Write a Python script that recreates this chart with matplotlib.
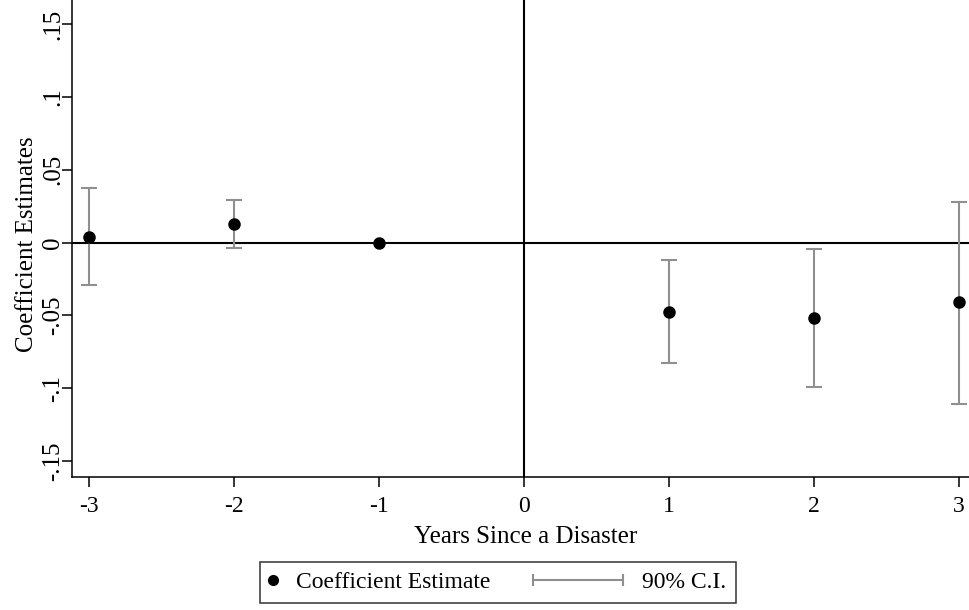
import numpy as np
import matplotlib
matplotlib.use("Agg")
import matplotlib.pyplot as plt
from matplotlib.lines import Line2D
from matplotlib.legend_handler import HandlerBase, HandlerLine2D

# event-study estimates
years = [-3, -2, -1, 1, 2, 3]
coef = [0.0038, 0.0125, 0.0, -0.0477, -0.052, -0.041]
ci_low = [-0.029, -0.0038, np.nan, -0.083, -0.099, -0.111]
ci_high = [0.0376, 0.029, np.nan, -0.012, -0.0045, 0.028]
xticks = [-3, -2, -1, 0, 1, 2, 3]
yticks = [-0.15, -0.1, -0.05, 0, 0.05, 0.1, 0.15]
ytick_labels = ['-.15', '-.1', '-.05', '0', '.05', '.1', '.15']

plt.rcParams['font.family'] = ['Liberation Serif', 'DejaVu Serif']
grey = '#8f8f8f'


class CIHandler(HandlerBase):
    # horizontal capped line, wider than the default handle box
    def legend_artist(self, legend, orig_handle, fontsize, handlebox):
        handlebox.width = 65
        return super().legend_artist(legend, orig_handle, fontsize, handlebox)

    def create_artists(self, legend, orig_handle, xdescent, ydescent,
                       width, height, fontsize, trans):
        y = (height - ydescent) / 2.0
        xs = [-xdescent, width - xdescent]
        line = Line2D(xs, [y, y], color=grey, lw=1.5, transform=trans)
        caps = Line2D(xs, [y, y], color=grey, ls='none', marker='|',
                      markersize=9, markeredgewidth=1.5, transform=trans)
        return [line, caps]


fig = plt.figure(figsize=(9.69, 6.10), dpi=100)
ax = fig.add_axes([72 / 969, 1 - 477 / 610, 1 - 72 / 969, 477 / 610])

ax.axhline(0, color='black', lw=1.5, zorder=1)
ax.axvline(0, color='black', lw=1.5, zorder=1)

c = np.array(coef)
lo = np.array(ci_low)
hi = np.array(ci_high)
ok = ~np.isnan(lo)
ax.errorbar(np.array(years)[ok], c[ok], yerr=[c[ok] - lo[ok], hi[ok] - c[ok]],
            fmt='none', ecolor=grey, elinewidth=1.5, capsize=6, capthick=1.5, zorder=2)
ax.plot(years, coef, 'o', color='black', markersize=8, zorder=3)

ax.set_xlim(-3.117, 3.069)
ax.set_ylim(-0.161, 0.1665)
ax.set_xticks(xticks)
ax.set_xticklabels([str(v) for v in xticks])
ax.set_yticks(yticks)
ax.set_yticklabels(ytick_labels, rotation=90, ha='center', va='baseline',
                   rotation_mode='anchor')
ax.tick_params(axis='both', length=7, width=1.1, color='black')
ax.tick_params(axis='x', labelsize=17, pad=6.5)
ax.tick_params(axis='y', labelsize=18, pad=2.2)
for s in ['top', 'right']:
    ax.spines[s].set_visible(False)
for s in ['left', 'bottom']:
    ax.spines[s].set_linewidth(1.1)

ax.set_xlabel('Years Since a Disaster', fontsize=18, va='baseline')
ax.xaxis.set_label_coords(0.5056, -0.1384)
ax.set_ylabel('Coefficient Estimates', fontsize=18, va='baseline',
              rotation_mode='anchor')
ax.yaxis.set_label_coords(-0.0435, 0.488)

dot = Line2D([], [], color='black', marker='o', ls='none', markersize=7)
ci = Line2D([], [], color=grey)
leg = fig.legend([dot, ci], ['Coefficient Estimate', '90% C.I.'],
                 loc='center', bbox_to_anchor=(498 / 969, 1 - 582.5 / 610),
                 ncol=2, fontsize=17, frameon=True, fancybox=False,
                 edgecolor='black', handlelength=0.3, handletextpad=0.8,
                 columnspacing=1.8, borderpad=0.42,
                 handler_map={dot: HandlerLine2D(numpoints=1), ci: CIHandler()})
leg.get_frame().set_linewidth(1.1)

fig.savefig('out.png', dpi=100)
